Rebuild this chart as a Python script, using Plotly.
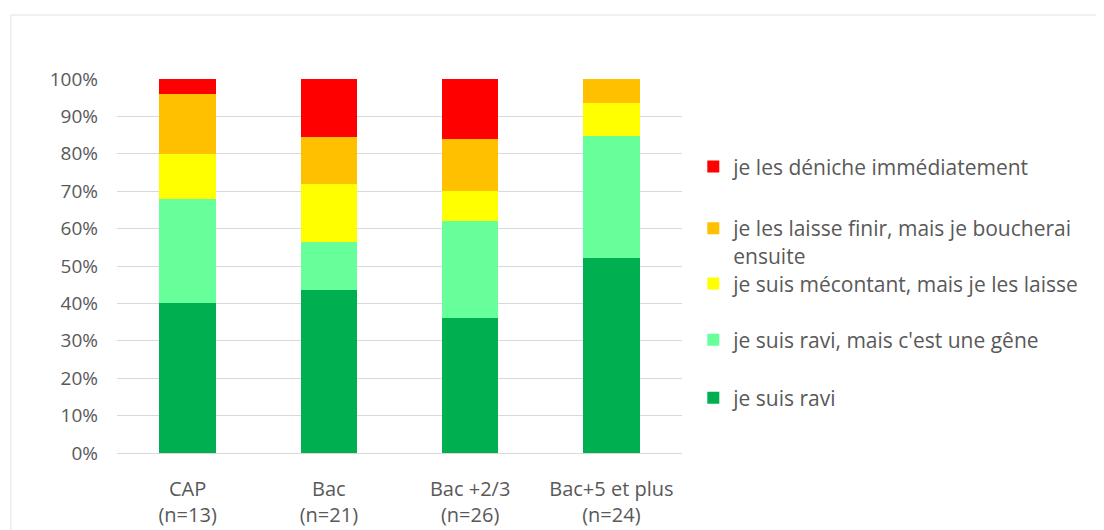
import plotly.graph_objects as go

categories = ["CAP<br>(n=13)", "Bac<br>(n=21)", "Bac +2/3<br>(n=26)", "Bac+5 et plus<br>(n=24)"]
series_names = [
    "je suis ravi",
    "je suis ravi, mais c'est une gêne",
    "je suis mécontant, mais je les laisse",
    "je les laisse finir, mais je boucherai<br>ensuite",
    "je les déniche immédiatement",
]
ravi = [40.0, 43.6, 36.0, 52.2]
ravi_gene = [28.0, 12.8, 26.0, 32.6]
mecontant = [12.0, 15.5, 8.0, 8.8]
laisse_finir = [16.0, 12.7, 14.0, 6.4]
deniche = [4.0, 15.4, 16.0, 0.0]
values = [ravi, ravi_gene, mecontant, laisse_finir, deniche]
colors = ["#00B050", "#66FF99", "#FFFF00", "#FFC000", "#FF0000"]
y_ticks = [0, 10, 20, 30, 40, 50, 60, 70, 80, 90, 100]
y_ticktext = [f"{v}%" for v in y_ticks]

FONT = "Open Sans"
TXT = "#595959"

# legend vertical centres (paper coords)
legend_ids = ["legend5", "legend4", "legend3", "legend2", "legend"]
legend_y = [0.147, 0.302, 0.452, 0.564, 0.765]

fig = go.Figure()
for name, vals, col, lid in zip(series_names, values, colors, legend_ids):
    fig.add_trace(go.Bar(
        x=categories, y=vals, name=name,
        marker=dict(color=col, line=dict(width=0)),
        legend=lid,
    ))

layout_legends = {}
for lid, ly in zip(legend_ids, legend_y):
    layout_legends[lid] = dict(
        x=1.02, xanchor="left", y=ly, yanchor="middle",
        font=dict(family=FONT, size=21, color=TXT),
        bgcolor="rgba(0,0,0,0)", valign="top",
        itemwidth=30,
    )

fig.update_layout(
    barmode="stack",
    bargap=0.6,
    width=1096, height=522,
    margin=dict(l=109, r=422, t=71, b=77, autoexpand=False),
    paper_bgcolor="white", plot_bgcolor="white",
    font=dict(family=FONT, color=TXT),
    showlegend=True,
    **layout_legends,
    xaxis=dict(
        tickfont=dict(family=FONT, size=20, color=TXT),
        showgrid=False, showline=True, linecolor="#d9d9d9", linewidth=1,
        ticks="", ticklabelstandoff=18, automargin=False,
    ),
    yaxis=dict(
        range=[0, 100], tickvals=y_ticks, ticktext=y_ticktext,
        tickfont=dict(family=FONT, size=19, color=TXT),
        showgrid=True, gridcolor="#d9d9d9", gridwidth=1,
        zeroline=False, ticks="", ticklabelstandoff=18, automargin=False,
    ),
    shapes=[dict(
        type="rect", xref="paper", yref="paper",
        x0=-0.188, x1=1.8, y0=-0.4, y1=1.171,
        line=dict(color="#e3e3e3", width=1), fillcolor="rgba(0,0,0,0)",
        layer="below",
    )],
)

fig.write_html("out.html")
